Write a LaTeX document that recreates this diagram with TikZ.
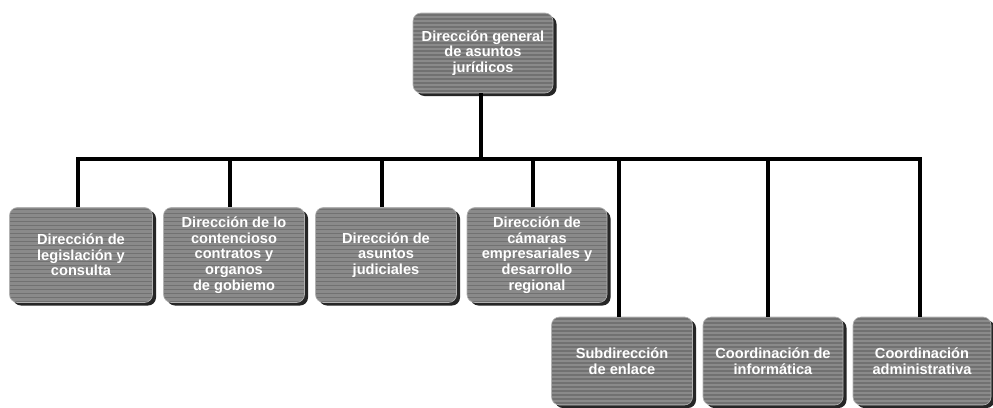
\documentclass[tikz,border=0pt]{standalone}
\usepackage{fontspec}
\setmainfont{Liberation Sans}
\usetikzlibrary{shadows}
\definecolor{boxgray}{HTML}{8A8A8A}
\begin{document}
\begin{tikzpicture}[x=1pt,y=-1pt,
  orgbox/.style={draw=gray!60, line width=0.6pt, fill=boxgray, rounded corners=8pt,
    text=white, font=\bfseries\fontsize{14.6}{15.6}\selectfont, align=center,
    inner sep=1pt,
    drop shadow={shadow xshift=3.5pt, shadow yshift=-3pt, fill=black!85, opacity=1},
    path picture={\foreach \k in {2,6,...,100}{\draw[black, opacity=.18, line width=1.6pt]
      ([yshift=-\k pt]path picture bounding box.north west) -- ([yshift=-\k pt]path picture bounding box.north east);}}},
  conn/.style={line width=4.5pt, black}]
\useasboundingbox (0,0) rectangle (993,407);
\fill[white] (0,0) rectangle (993,407);
\node[orgbox, minimum width=140, minimum height=80] (top) at (483,53) {Dirección general\\de asuntos\\jurídicos};
\node[orgbox, minimum width=143, minimum height=95] (b1) at (81,255) {Dirección de\\legislación y\\consulta};
\node[orgbox, minimum width=141, minimum height=95] (b2) at (234,255) {Dirección de lo\\contencioso\\contratos y\\organos\\de gobiemo};
\node[orgbox, minimum width=141, minimum height=95] (b3) at (386,255) {Dirección de\\asuntos\\judiciales};
\node[orgbox, minimum width=140, minimum height=95] (b4) at (537,255) {Dirección de\\cámaras\\empresariales y\\desarrollo\\regional};
\node[orgbox, minimum width=141, minimum height=88] (b5) at (622,361) {Subdirección\\de enlace};
\node[orgbox, minimum width=140, minimum height=88] (b6) at (773,361) {Coordinación de\\informática};
\node[orgbox, minimum width=138, minimum height=88] (b7) at (922,361) {Coordinación\\administrativa};
\coordinate (bus) at (481,159);
\draw[conn] ([xshift=-2pt]top.south) -- (bus);
\draw[conn] ([xshift=-3pt]b1.north) |- (bus) -| ([xshift=-2pt]b7.north);
\draw[conn] ([xshift=-4pt]b2.north) -- ([xshift=-4pt]b2.north |- bus);
\draw[conn] ([xshift=-4pt]b3.north) -- ([xshift=-4pt]b3.north |- bus);
\draw[conn] ([xshift=-4pt]b4.north) -- ([xshift=-4pt]b4.north |- bus);
\draw[conn] ([xshift=-3pt]b5.north) -- ([xshift=-3pt]b5.north |- bus);
\draw[conn] ([xshift=-5pt]b6.north) -- ([xshift=-5pt]b6.north |- bus);
\end{tikzpicture}
\end{document}
